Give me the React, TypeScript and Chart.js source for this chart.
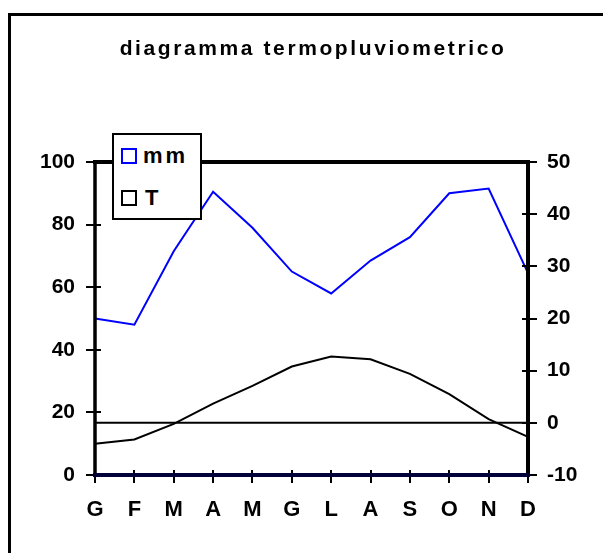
import React, { useEffect, useRef } from "react";
import { Chart, registerables } from "chart.js";

Chart.register(...registerables);

const months = ["G", "F", "M", "A", "M", "G", "L", "A", "S", "O", "N", "D"];
const precipitation = [50, 48, 71.5, 90.5, 79, 65, 58, 68.5, 76, 90, 91.5, 64.5];
const temperature = [-4, -3.2, -0.2, 3.7, 7.1, 10.8, 12.7, 12.2, 9.4, 5.5, 0.7, -2.7];
const zeroLine = [0, 0, 0, 0, 0, 0, 0, 0, 0, 0, 0, 0];
const mmRange = [0, 100, 20];
const tRange = [-10, 50, 10];
const legendLabels = ["mm", "T"];
const titleText = "diagramma termopluviometrico";

const FONT = "'Liberation Sans', Arial, Helvetica, sans-serif";

const axesDecor = {
  id: "axesDecor",
  afterDatasetsDraw(chart: any) {
    const { ctx, chartArea: a, scales } = chart;
    const xs = scales.x;
    const ys = scales.y;
    const y1 = scales.y1;
    const seg = (x1: number, y1p: number, x2: number, y2: number) => {
      ctx.beginPath();
      ctx.moveTo(x1, y1p);
      ctx.lineTo(x2, y2);
      ctx.stroke();
    };
    ctx.save();
    ctx.lineCap = "butt";
    ctx.strokeStyle = "#000";
    ctx.lineWidth = 2;
    ys.ticks.forEach((t: any) => {
      const py = Math.round(ys.getPixelForValue(t.value));
      seg(a.left - 9, py, a.left + 6, py);
    });
    y1.ticks.forEach((t: any) => {
      const py = Math.round(y1.getPixelForValue(t.value));
      seg(a.right - 6, py, a.right + 9, py);
    });
    xs.ticks.forEach((_t: any, i: number) => {
      const px = Math.round(xs.getPixelForTick(i));
      seg(px, a.bottom - 5, px, a.bottom + 8);
    });
    ctx.lineWidth = 4;
    seg(a.left - 2, a.top, a.right + 2, a.top);
    seg(a.right, a.top, a.right, a.bottom);
    ctx.lineWidth = 3.5;
    seg(a.left, a.top, a.left, a.bottom);
    ctx.strokeStyle = "#00003a";
    ctx.lineWidth = 4;
    seg(a.left - 2, a.bottom, a.right + 2, a.bottom);
    ctx.restore();
  },
};

export default function App() {
  const ref = useRef<HTMLCanvasElement | null>(null);

  useEffect(() => {
    if (!ref.current) return;
    const chart = new Chart(ref.current, {
      type: "line",
      data: {
        labels: months,
        datasets: [
          {
            label: legendLabels[0],
            data: precipitation,
            yAxisID: "y",
            borderColor: "#0000ff",
            borderWidth: 2,
            pointRadius: 0,
            tension: 0,
            fill: false,
          },
          {
            label: legendLabels[1],
            data: temperature,
            yAxisID: "y1",
            borderColor: "#000000",
            borderWidth: 2,
            pointRadius: 0,
            tension: 0,
            fill: false,
          },
          {
            label: "zero",
            data: zeroLine,
            yAxisID: "y1",
            borderColor: "#000000",
            borderWidth: 2,
            pointRadius: 0,
            tension: 0,
            fill: false,
          },
        ],
      },
      options: {
        animation: false,
        responsive: false,
        devicePixelRatio: 1,
        layout: { padding: { left: 0, right: 0, top: 162, bottom: 0 } },
        plugins: {
          legend: { display: false },
          tooltip: { enabled: false },
          title: { display: false },
        },
        scales: {
          x: {
            type: "category",
            offset: false,
            grid: { display: false, drawTicks: false },
            border: { display: false },
            ticks: {
              color: "#000",
              padding: 22,
              maxRotation: 0,
              autoSkip: false,
              font: { family: FONT, size: 22, weight: "bold" },
            },
            afterFit: (s: any) => {
              s.height = 78;
            },
          },
          y: {
            position: "left",
            min: mmRange[0],
            max: mmRange[1],
            grid: { display: false, drawTicks: false },
            border: { display: false },
            ticks: {
              stepSize: mmRange[2],
              color: "#000",
              padding: 20,
              font: { family: FONT, size: 21, weight: "bold" },
            },
            afterFit: (s: any) => {
              s.width = 95;
            },
          },
          y1: {
            position: "right",
            min: tRange[0],
            max: tRange[1],
            grid: { display: false, drawTicks: false },
            border: { display: false },
            ticks: {
              stepSize: tRange[2],
              color: "#000",
              padding: 19,
              font: { family: FONT, size: 21, weight: "bold" },
            },
            afterFit: (s: any) => {
              s.width = 75;
            },
          },
        },
      },
      plugins: [axesDecor],
    });
    return () => chart.destroy();
  }, []);

  const sq = (color: string, top: number) => ({
    position: "absolute" as const,
    left: 121,
    top,
    width: 12,
    height: 12,
    border: `2px solid ${color}`,
  });
  const txt = (left: number, top: number) => ({
    position: "absolute" as const,
    left,
    top,
    fontFamily: FONT,
    fontWeight: "bold" as const,
    fontSize: 22,
    lineHeight: "22px",
    color: "#000",
    letterSpacing: 3,
  });

  return (
    <div
      style={{
        position: "fixed",
        left: 0,
        top: 0,
        width: 603,
        height: 553,
        background: "#fff",
        overflow: "hidden",
      }}
    >
      <div
        style={{
          position: "absolute",
          left: 8,
          top: 13,
          width: 800,
          height: 800,
          borderLeft: "3px solid #000",
          borderTop: "3px solid #000",
          boxSizing: "border-box",
        }}
      />
      <canvas
        ref={ref}
        width={603}
        height={553}
        style={{ position: "absolute", left: 0, top: 0, width: 603, height: 553 }}
      />
      <div
        style={{
          position: "absolute",
          left: 95,
          width: 436,
          top: 35,
          textAlign: "center",
          fontFamily: FONT,
          fontWeight: "bold",
          fontSize: 21,
          lineHeight: "26px",
          letterSpacing: 2.6,
          color: "#000",
          whiteSpace: "nowrap",
        }}
      >
        {titleText}
      </div>
      <div
        style={{
          position: "absolute",
          left: 112,
          top: 133,
          width: 90,
          height: 87,
          border: "2px solid #000",
          boxSizing: "border-box",
          background: "#fff",
        }}
      />
      <div style={sq("#0000ff", 148)} />
      <div style={txt(143, 145)}>{legendLabels[0]}</div>
      <div style={sq("#000000", 190)} />
      <div style={txt(145, 187)}>{legendLabels[1]}</div>
    </div>
  );
}
